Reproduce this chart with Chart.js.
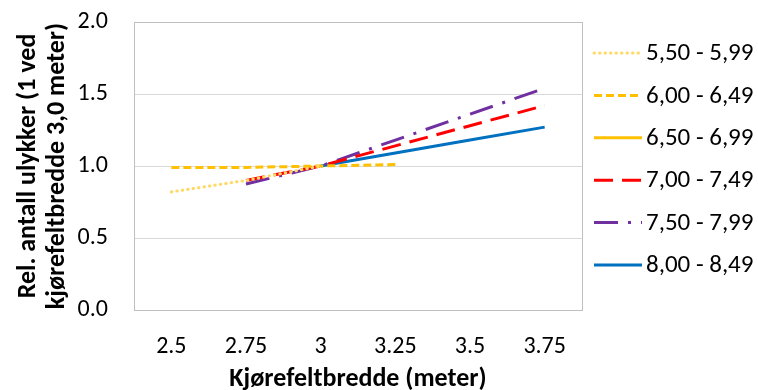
<!DOCTYPE html>
<html>
<head>
    <script src="https://cdn.jsdelivr.net/npm/chart.js@4.4.0/dist/chart.umd.min.js"></script>
    <style>
        body { margin: 0; background: #ffffff; }
    </style>
</head>
<body>
    <canvas id="lane-chart" width="758" height="390"></canvas>
    <script>
        const widths = ['2.5', '2.75', '3', '3.25', '3.5', '3.75']
        const labels = ['5,50 - 5,99', '6,00 - 6,49', '6,50 - 6,99', '7,00 - 7,49', '7,50 - 7,99', '8,00 - 8,49']
        const w550 = [0.82, 0.90, 1.00, null, null, null]
        const w600 = [0.99, 0.99, 1.00, 1.01, null, null]
        const w650 = [null, null, 1.00, null, null, null]
        const w700 = [null, 0.90, 1.00, 1.14, 1.28, 1.42]
        const w750 = [null, 0.875, 1.00, 1.18, 1.36, 1.54]
        const w800 = [null, null, 1.00, 1.09, 1.18, 1.27]

        const font = 'Carlito, "Open Sans", sans-serif'
        Chart.defaults.font.family = font
        Chart.defaults.color = '#000000'

        function line(label, data, color, dash, cap) {
            return {
                label: label,
                data: data,
                borderColor: color,
                backgroundColor: color,
                borderWidth: 3,
                borderDash: dash,
                borderCapStyle: cap || 'butt',
                pointRadius: 0,
                pointHoverRadius: 0,
                tension: 0,
                spanGaps: false
            }
        }

        // plot frame + legend drawn by hand so dashes show in the legend keys
        const extras = {
            id: 'extras',
            afterDraw(chart) {
                const a = chart.chartArea
                const ctx = chart.ctx
                ctx.save()
                ctx.strokeStyle = '#bfbfbf'
                ctx.lineWidth = 1
                ctx.strokeRect(Math.round(a.left) + 0.5, Math.round(a.top) + 0.5,
                    Math.round(a.right - a.left), Math.round(a.bottom - a.top))

                const x0 = a.right + 12, x1 = a.right + 60
                chart.data.datasets.forEach((ds, i) => {
                    const y = 53 + i * 42.4
                    ctx.strokeStyle = ds.borderColor
                    ctx.lineWidth = ds.borderWidth
                    ctx.lineCap = ds.borderCapStyle
                    ctx.setLineDash(ds.borderDash)
                    ctx.beginPath()
                    ctx.moveTo(x0, y)
                    ctx.lineTo(x1, y)
                    ctx.stroke()
                    ctx.setLineDash([])
                    ctx.fillStyle = '#000000'
                    ctx.font = '25px ' + font
                    ctx.textAlign = 'left'
                    ctx.textBaseline = 'middle'
                    ctx.fillText(ds.label, x1 + 4, y + 1)
                })
                ctx.restore()
            }
        }

        new Chart(document.getElementById('lane-chart').getContext('2d'), {
            type: 'line',
            data: {
                labels: widths,
                datasets: [
                    line(labels[0], w550, '#FFD966', [0.5, 5], 'round'),
                    line(labels[1], w600, '#FFC000', [8, 4]),
                    line(labels[2], w650, '#FFC000', []),
                    line(labels[3], w700, '#FF0000', [19, 9]),
                    line(labels[4], w750, '#7030A0', [24, 10, 3, 10]),
                    line(labels[5], w800, '#0070C0', [])
                ]
            },
            options: {
                responsive: false,
                maintainAspectRatio: false,
                animation: false,
                layout: { padding: { top: 22, right: 176, bottom: 0, left: 6 } },
                plugins: {
                    tooltip: { enabled: false },
                    legend: { display: false }
                },
                scales: {
                    x: {
                        offset: true,
                        grid: { display: false },
                        border: { color: '#bfbfbf' },
                        ticks: { font: { size: 24 }, padding: 15 },
                        title: {
                            display: true,
                            text: 'Kjørefeltbredde (meter)',
                            font: { size: 26, weight: 'bold', lineHeight: 0.8 },
                            padding: { top: 6, bottom: 0 }
                        },
                        afterFit(scale) { scale.height = 80 }
                    },
                    y: {
                        min: 0,
                        max: 2,
                        ticks: {
                            stepSize: 0.5,
                            font: { size: 24 },
                            padding: 26,
                            callback: v => v.toFixed(1)
                        },
                        grid: { color: '#d9d9d9', drawTicks: false },
                        border: { color: '#bfbfbf' },
                        title: {
                            display: true,
                            text: ['Rel. antall ulykker (1 ved', 'kjørefeltbredde 3,0 meter)'],
                            font: { size: 26, weight: 'bold', lineHeight: 1.12 },
                            padding: { top: 8, bottom: 4 }
                        },
                        afterFit(scale) {
                            scale.width = 128
                            scale.paddingTop = 0
                            scale.paddingBottom = 0
                        }
                    }
                }
            },
            plugins: [extras]
        });
    </script>
</body>
</html>
